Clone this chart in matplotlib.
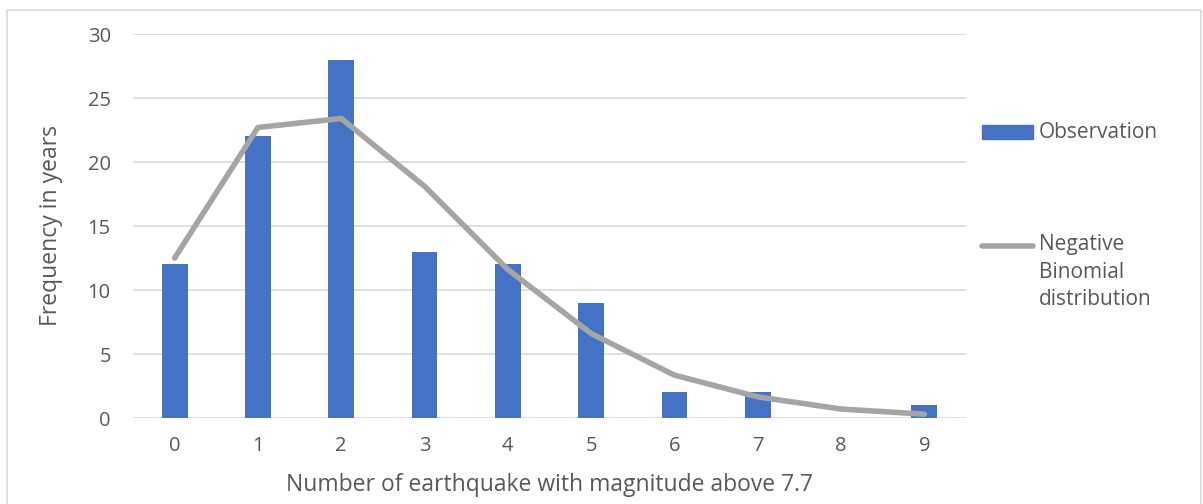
import numpy as np
import matplotlib.pyplot as plt
from matplotlib.lines import Line2D
from matplotlib.patches import Rectangle

# data
counts = [0, 1, 2, 3, 4, 5, 6, 7, 8, 9]
observed = [12, 22, 28, 13, 12, 9, 2, 2, 0, 1]
neg_binomial = [12.5, 22.7, 23.4, 18.1, 11.6, 6.6, 3.35, 1.65, 0.7, 0.3]

txt = "#595959"
plt.rcParams['font.family'] = ['Open Sans', 'DejaVu Sans']

fig = plt.figure(figsize=(12.03, 5.04), dpi=100)
ax = fig.add_axes([133 / 1203, 86 / 504, 833 / 1203, 384 / 504])

x = np.arange(len(counts))
ax.bar(x, observed, width=0.31, color="#4472C4", zorder=2)
ax.plot(x, neg_binomial, color="#A5A5A5", lw=4, solid_capstyle="round", zorder=3)

ax.set_xlim(-0.5, len(counts) - 0.5)
ax.set_ylim(0, 30)
ax.set_yticks(range(0, 31, 5))
ax.set_xticks(x)
ax.set_xticklabels([str(c) for c in counts])
ax.yaxis.grid(True, color="#D9D9D9", lw=1.2, zorder=0)
ax.set_axisbelow(True)
for s in ax.spines.values():
    s.set_visible(False)
ax.tick_params(length=0, labelsize=14.5, colors=txt)
ax.tick_params(axis="y", pad=16)
ax.tick_params(axis="x", pad=13)
ax.set_xlabel("Number of earthquake with magnitude above 7.7", fontsize=16.5, color=txt, labelpad=12)
ax.set_ylabel("Frequency in years", fontsize=16.5, color=txt, labelpad=18)

# legend on the right, drawn by hand so the line handle sits on the first text row
fig.add_artist(Rectangle((982 / 1203, 1 - 139 / 504), 51 / 1203, 14 / 504,
                         transform=fig.transFigure, color="#4472C4"))
fig.text(1039 / 1203, 1 - 133 / 504, "Observation", fontsize=15, color=txt, va="center")
fig.add_artist(Line2D([982 / 1203, 1033 / 1203], [1 - 246 / 504] * 2, transform=fig.transFigure,
                      color="#A5A5A5", lw=4, solid_capstyle="round"))
fig.text(1039 / 1203, 1 - 234 / 504, "Negative\nBinomial\ndistribution", fontsize=15,
         color=txt, va="top", linespacing=1.42)

# outer chart border
fig.add_artist(Rectangle((7 / 1203, -0.1), 1194 / 1203, 1.1 - 10 / 504, transform=fig.transFigure,
                         fill=False, edgecolor="#D9D9D9", lw=1.2))

fig.savefig("out.png", dpi=100)
